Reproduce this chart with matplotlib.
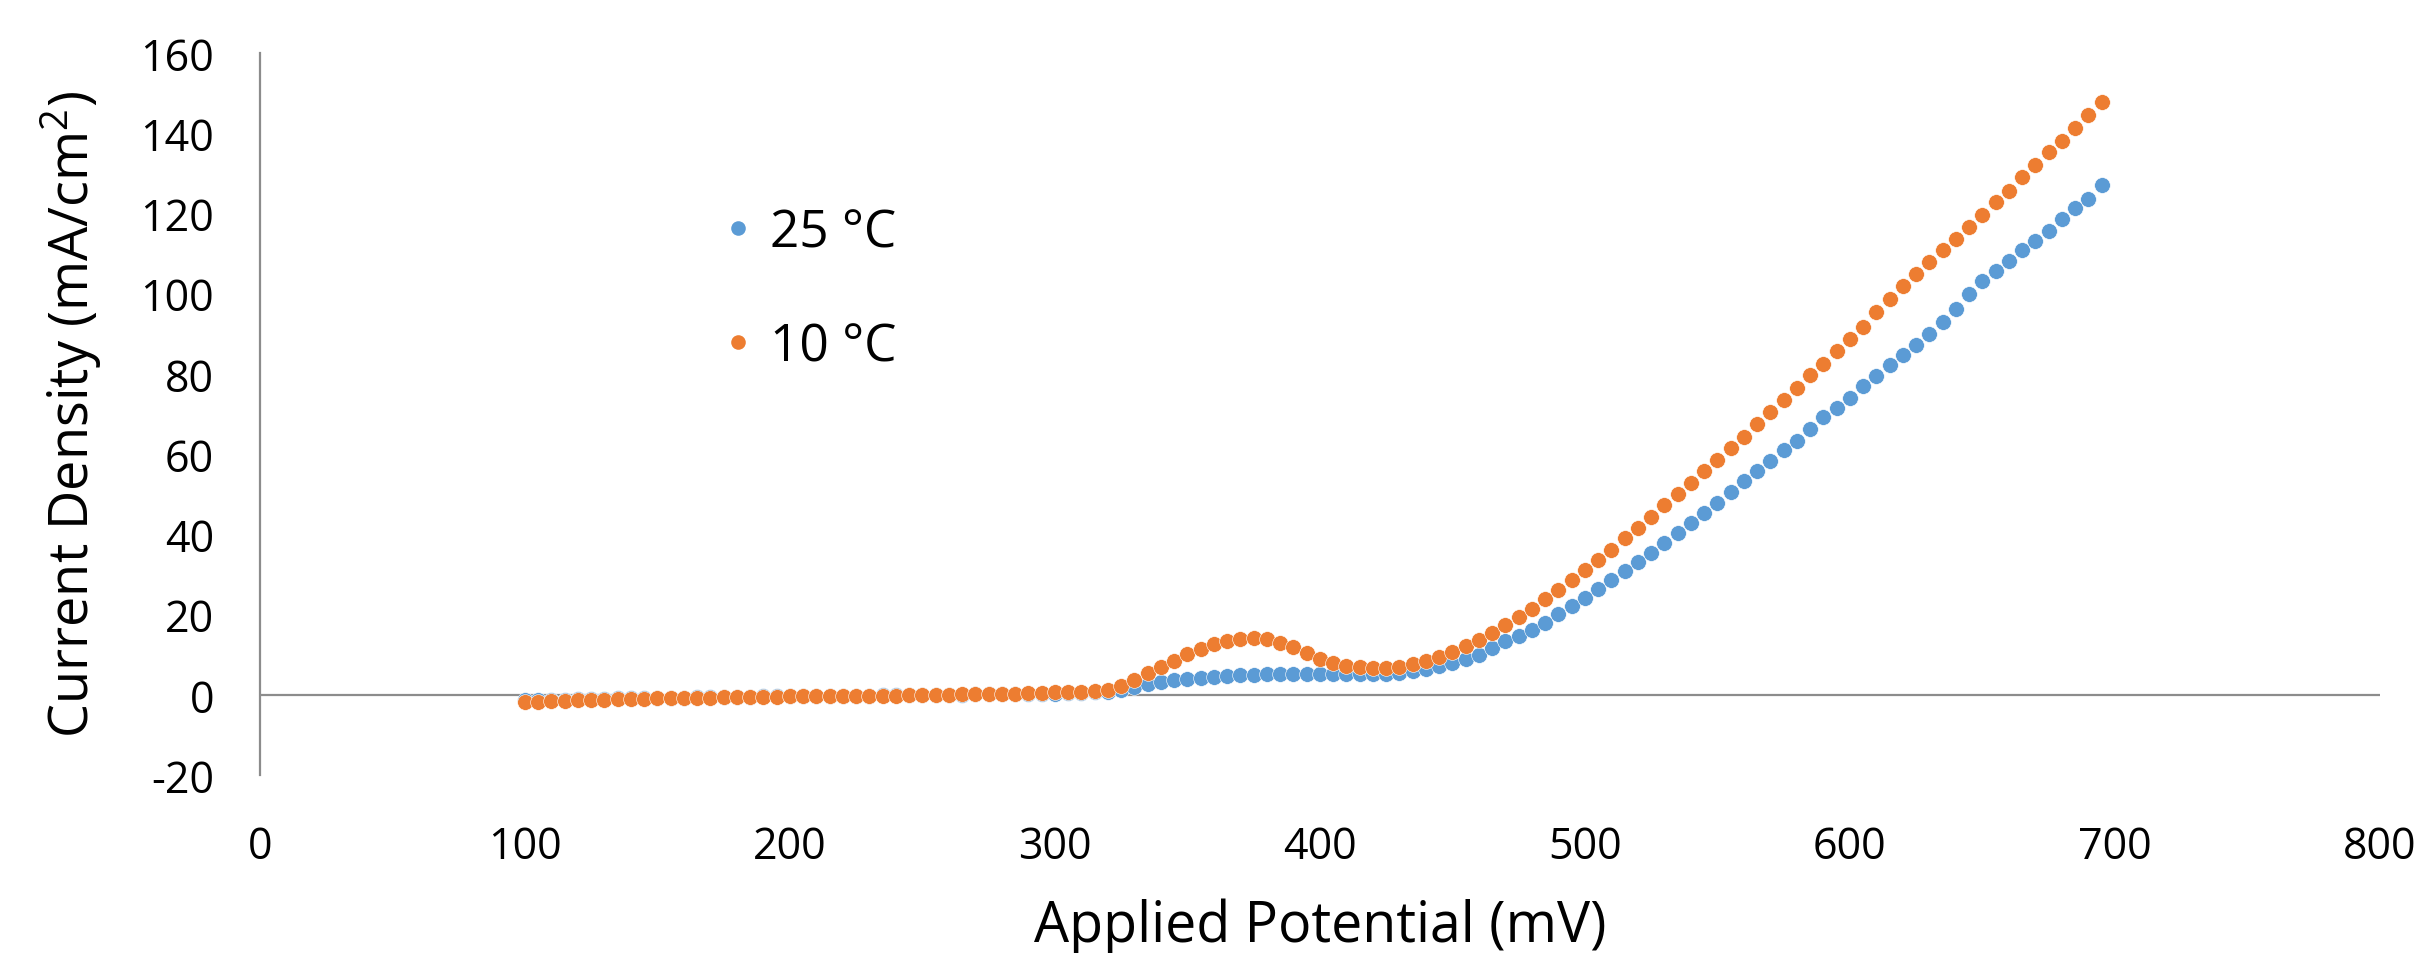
import numpy as np
import matplotlib
matplotlib.use("Agg")
import matplotlib.pyplot as plt
from matplotlib.lines import Line2D
from matplotlib.ticker import FuncFormatter

# ---- data ----
potential_mv = list(range(100, 700, 5))

current_25C = [
    -1.4, -1.3, -1.2, -1.2, -1.1, -1.0, -1.0, -0.9, -0.9, -0.8,
    -0.8, -0.7, -0.7, -0.6, -0.6, -0.5, -0.5, -0.5, -0.4, -0.4,
    -0.4, -0.3, -0.3, -0.3, -0.2, -0.2, -0.2, -0.1, -0.1, -0.1,
    0.0, 0.0, 0.0, 0.0, 0.1, 0.1, 0.1, 0.2, 0.2, 0.2,
    0.3, 0.4, 0.5, 0.6, 0.8, 1.2, 2.0, 2.8, 3.3, 3.7,
    4.0, 4.3, 4.5, 4.7, 4.9, 5.0, 5.1, 5.1, 5.1, 5.1,
    5.1, 5.1, 5.1, 5.1, 5.1, 5.3, 5.5, 5.9, 6.3, 7.1,
    7.9, 8.9, 10.0, 11.6, 13.4, 14.7, 16.2, 18.0, 20.1, 22.1,
    24.2, 26.3, 28.5, 30.8, 33.1, 35.4, 37.9, 40.4, 42.9, 45.3,
    47.8, 50.6, 53.2, 55.9, 58.4, 60.9, 63.3, 66.3, 69.3, 71.5,
    74.1, 76.9, 79.4, 82.2, 84.7, 87.2, 90.0, 93.0, 96.2, 99.8,
    103.1, 105.6, 108.2, 110.8, 113.1, 115.6, 118.7, 121.4, 123.7, 127.0,
]

current_10C = [
    -1.8, -1.7, -1.6, -1.5, -1.4, -1.3, -1.2, -1.1, -1.0, -1.0,
    -0.9, -0.8, -0.8, -0.7, -0.7, -0.6, -0.6, -0.5, -0.5, -0.5,
    -0.4, -0.4, -0.4, -0.3, -0.3, -0.3, -0.2, -0.2, -0.2, -0.1,
    -0.1, 0.0, 0.0, 0.1, 0.1, 0.2, 0.2, 0.3, 0.4, 0.5,
    0.6, 0.7, 0.8, 0.9, 1.3, 2.2, 3.6, 5.4, 6.8, 8.5,
    10.1, 11.4, 12.6, 13.4, 13.9, 14.1, 13.9, 13.0, 11.8, 10.3,
    8.9, 7.9, 7.2, 6.8, 6.6, 6.6, 7.0, 7.6, 8.5, 9.5,
    10.7, 12.2, 13.7, 15.5, 17.4, 19.4, 21.5, 23.8, 26.1, 28.5,
    31.0, 33.6, 36.2, 39.0, 41.6, 44.4, 47.3, 50.1, 52.9, 55.7,
    58.5, 61.4, 64.3, 67.5, 70.6, 73.5, 76.4, 79.6, 82.5, 85.6,
    88.7, 91.8, 95.5, 98.7, 102.0, 104.9, 108.0, 110.8, 113.6, 116.5,
    119.7, 122.9, 125.7, 129.1, 132.2, 135.2, 138.1, 141.4, 144.6, 147.8,
]

series_labels = ["25 \u00b0C", "10 \u00b0C"]
x_ticks = [0, 100, 200, 300, 400, 500, 600, 700, 800]
y_ticks = [-20, 0, 20, 40, 60, 80, 100, 120, 140, 160]

# ---- style ----
BLUE = "#5B9BD5"
ORANGE = "#ED7D31"
AXIS_GRAY = "#8C8C8C"
plt.rcParams["font.family"] = ["Open Sans", "DejaVu Sans"]

fig = plt.figure(figsize=(24.23, 9.54), dpi=100)
ax = fig.add_axes([0.1073, 0.1866, 0.8749, 0.7568])

ms = 128
ax.scatter(potential_mv, current_25C, s=ms, color=BLUE, edgecolors="white",
           linewidths=0.4, zorder=3)
ax.scatter(potential_mv, current_10C, s=ms, color=ORANGE, edgecolors="white",
           linewidths=0.4, zorder=4)

ax.set_xlim(0, 800)
ax.set_ylim(-20, 160)
ax.set_xticks(x_ticks)
ax.set_yticks(y_ticks)
hyphen_fmt = FuncFormatter(lambda v, p: f"{int(round(v))}".replace("\u2212", "-"))
ax.xaxis.set_major_formatter(hyphen_fmt)
ax.yaxis.set_major_formatter(hyphen_fmt)

for s in ["top", "right", "bottom"]:
    ax.spines[s].set_visible(False)
ax.spines["left"].set_color(AXIS_GRAY)
ax.spines["left"].set_linewidth(1.6)
ax.axhline(0, color=AXIS_GRAY, linewidth=1.6, zorder=1)

ax.tick_params(axis="both", length=0, labelsize=31, colors="black")
ax.tick_params(axis="x", pad=36)
ax.tick_params(axis="y", pad=33)

ax.set_xlabel("Applied Potential (mV)", fontsize=40, labelpad=20)
ax.set_ylabel(r"Current Density (mA/cm$\mathregular{^2}$)", fontsize=39,
              labelpad=26)

handles = [
    Line2D([], [], linestyle="none", marker="o", markersize=10.5,
           markerfacecolor=BLUE, markeredgecolor="none"),
    Line2D([], [], linestyle="none", marker="o", markersize=10.5,
           markerfacecolor=ORANGE, markeredgecolor="none"),
]
ax.legend(handles, series_labels, loc="center left",
          bbox_to_anchor=(0.194, 0.672), frameon=False, fontsize=37,
          labelspacing=1.22, handletextpad=0.22, handlelength=0.8)

fig.savefig("out.png", dpi=100, facecolor="white")
